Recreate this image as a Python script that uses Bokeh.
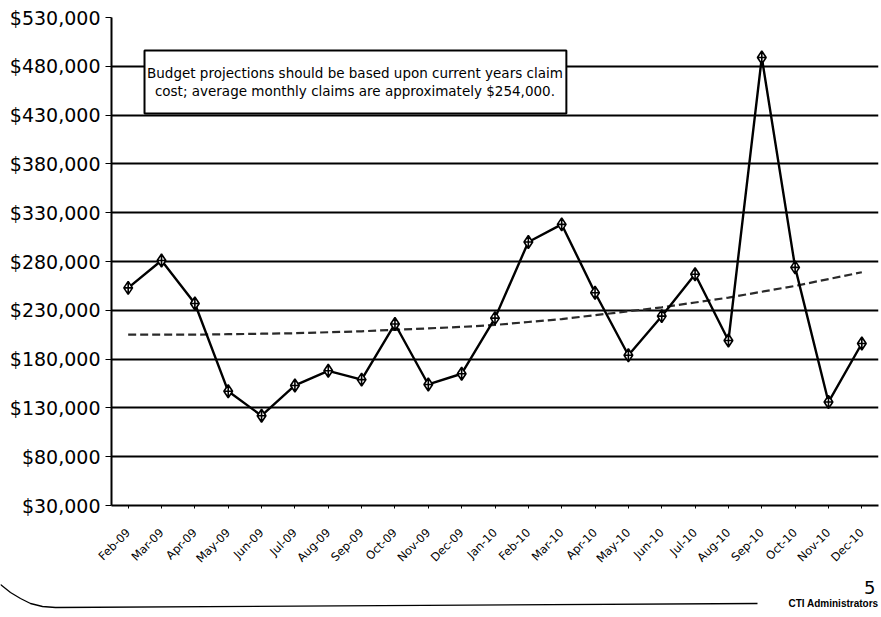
import math
from bokeh.plotting import figure
from bokeh.layouts import column, row
from bokeh.models import (FixedTicker, NumeralTickFormatter, Label, BoxAnnotation,
                          Range1d)
from bokeh.core.properties import value
from bokeh.embed import file_html
from bokeh.resources import INLINE

months = ["Feb-09", "Mar-09", "Apr-09", "May-09", "Jun-09", "Jul-09", "Aug-09",
          "Sep-09", "Oct-09", "Nov-09", "Dec-09", "Jan-10", "Feb-10", "Mar-10",
          "Apr-10", "May-10", "Jun-10", "Jul-10", "Aug-10", "Sep-10", "Oct-10",
          "Nov-10", "Dec-10"]
claims = [253000, 281000, 237000, 147000, 122000, 153000, 168000, 159000,
          216000, 154000, 165000, 222000, 300000, 318000, 248000, 184000,
          224000, 267000, 199000, 489000, 274000, 136000, 196000]
trend = [205000, 205000, 205000, 205500, 206000, 206500, 207500, 208500,
         210000, 211500, 213000, 215000, 218000, 221000, 225000, 229000,
         233000, 238000, 243000, 249000, 255000, 262000, 269000]
y_ticks = [30000, 80000, 130000, 180000, 230000, 280000, 330000, 380000,
           430000, 480000, 530000]
note = ("Budget projections should be based upon current years claim\n"
        "cost; average monthly claims are approximately $254,000.")
page_number = "5"
footer = "CTI Administrators"

W = 881
H_CHART = 575
H_FOOT = 42

p = figure(width=W, height=H_CHART, x_range=months,
           y_range=(y_ticks[0], y_ticks[-1]),
           output_backend="svg", toolbar_location=None,
           min_border_left=111, min_border_right=3, min_border_top=17,
           min_border_bottom=70)
p.outline_line_color = None
p.background_fill_color = "white"
p.border_fill_color = "white"

p.yaxis.ticker = FixedTicker(ticks=y_ticks)
p.yaxis.formatter = NumeralTickFormatter(format="$0,0")
p.yaxis.major_label_text_font = "DejaVu Sans"
p.yaxis.major_label_text_font_size = "19px"
p.yaxis.major_label_text_color = "black"
p.yaxis.axis_line_width = 2
p.yaxis.axis_line_color = "black"
p.yaxis.major_tick_out = 6
p.yaxis.major_tick_in = 0
p.yaxis.minor_tick_out = 0
p.yaxis.minor_tick_in = 0
p.yaxis.major_label_standoff = 5

p.xaxis.major_label_orientation = math.pi / 4
p.xaxis.major_label_text_font = "DejaVu Sans"
p.xaxis.major_label_text_font_size = "11.5px"
p.xaxis.major_label_text_color = "black"
p.xaxis.axis_line_width = 2
p.xaxis.axis_line_color = "black"
p.xaxis.major_tick_out = 3
p.xaxis.major_tick_in = 0
p.xaxis.major_label_standoff = 22

p.xgrid.grid_line_color = None
p.ygrid.grid_line_color = "black"
p.ygrid.grid_line_width = 1.8

p.line(months, trend, line_color="#2a2a2a", line_width=2.2, line_dash="8 4")
p.line(months, claims, line_color="black", line_width=2.4)
p.scatter(months, claims, marker="diamond_cross", size=13, fill_color="white",
          line_color="black", line_width=1.6)

box = BoxAnnotation(left=0.99, right=13.64, bottom=431600, top=496200,
                    fill_color="white", fill_alpha=1.0, line_color="black",
                    line_alpha=1.0, line_width=2)
p.add_layout(box)
p.add_layout(Label(x=7.3, y=464000, text=note, text_align="center",
                   text_baseline="middle", text_font="DejaVu Sans",
                   text_font_size="13.5px", text_color="black",
                   text_line_height=1.15))

# page footer (decoration drawn in page pixel coordinates)
f = figure(width=W, height=H_FOOT, x_range=Range1d(0, W),
           y_range=Range1d(H_CHART + H_FOOT, H_CHART),
           output_backend="svg", toolbar_location=None,
           x_axis_location=None, y_axis_location=None,
           min_border_left=0, min_border_right=0, min_border_top=0,
           min_border_bottom=0)
f.outline_line_color = None
f.xgrid.visible = False
f.ygrid.visible = False
f.border_fill_color = "white"
rule_x = [0, 10, 20, 30, 42, 55, 757]
rule_y = [584, 592, 598, 603, 606, 607, 603]
f.line(rule_x, rule_y, line_color="black", line_width=1.3)
f.text(x=[875], y=[587], text=[page_number], text_align="right",
       text_baseline="alphabetic", text_font=value("DejaVu Sans"),
       text_font_size="18px", text_color="black")
f.text(x=[878], y=[603], text=[footer], text_align="right",
       text_baseline="alphabetic", text_font=value("Liberation Sans"),
       text_font_style="bold", text_font_size="10px", text_color="black")

layout = column(p, row(f, spacing=0), spacing=0)
open("out.html", "w").write(file_html(layout, INLINE))
